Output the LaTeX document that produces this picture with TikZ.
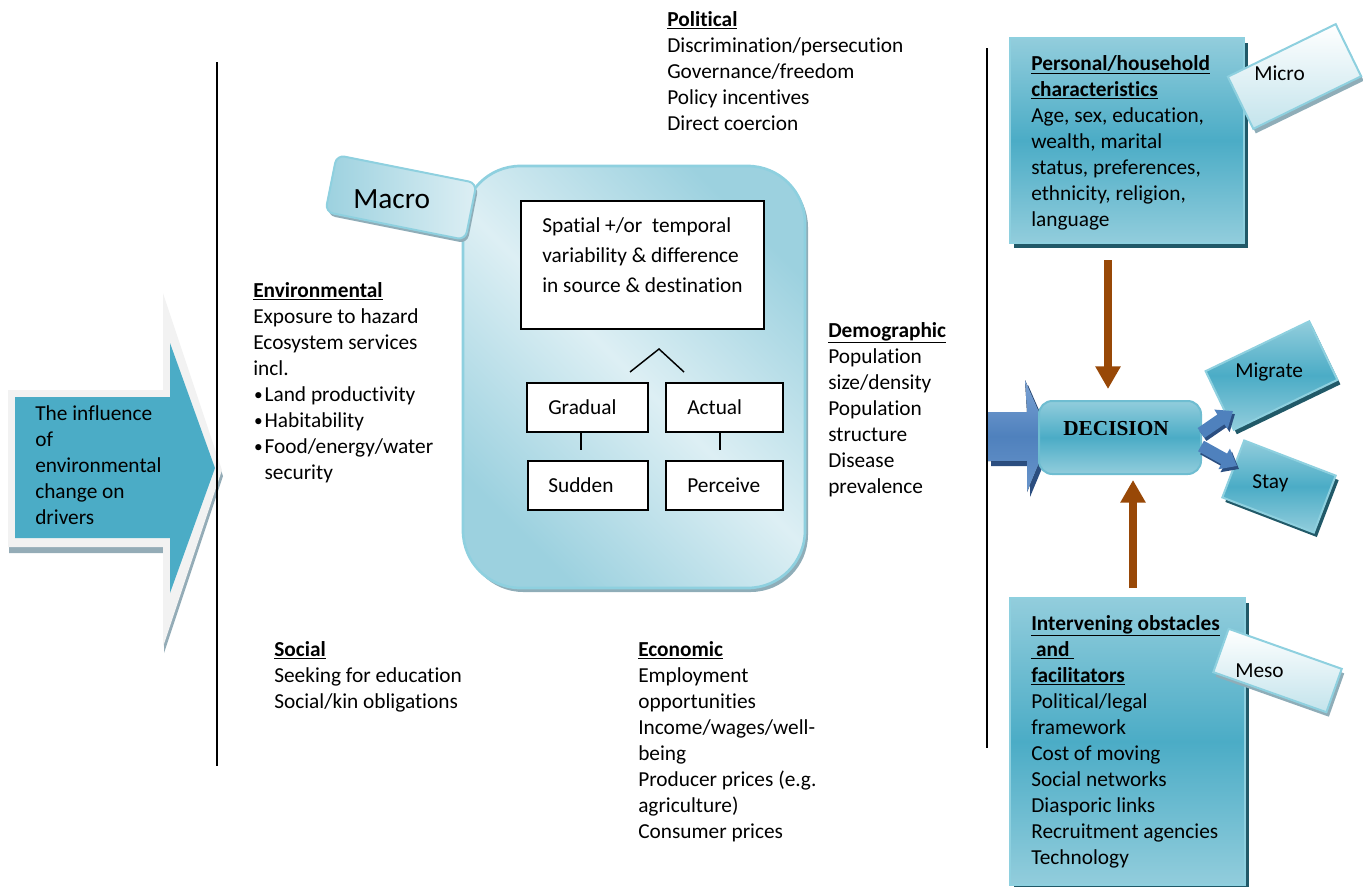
\documentclass[tikz,border=0pt]{standalone}
\usepackage{fontspec}
\setmainfont[Ligatures=NoCommon]{Carlito}
\newfontfamily\decfont{Liberation Serif}
\usetikzlibrary{arrows.meta,calc}
\definecolor{cTeal}{HTML}{4BACC6}
\definecolor{cTealL}{HTML}{92CDDC}
\definecolor{cTealXL}{HTML}{DDEFF4}
\definecolor{cTealMid}{HTML}{9CD1DF}
\definecolor{cTealD}{HTML}{215968}
\definecolor{cTealB}{HTML}{8ED0DF}
\definecolor{cBlue}{HTML}{4F81BD}
\definecolor{cBlueL}{HTML}{7BA2D4}
\definecolor{cBlueD}{HTML}{2B4E80}
\definecolor{cBrown}{HTML}{984807}
\definecolor{cGrayB}{HTML}{F2F2F2}
\definecolor{cGrayS}{HTML}{94ACB7}
\definecolor{cShadowB}{HTML}{8FADB8}
\newcommand\myhd[1]{\textbf{\underline{#1}}}
\newcommand\mybul{\makebox[8.5pt][l]{\hspace{0.6pt}\raisebox{0.6pt}{\fontsize{13}{13}\selectfont\textbullet}}}
\begin{document}
\begin{tikzpicture}[x=0.75pt,y=-0.75pt,
  txt/.style={anchor=base west, align=left, inner sep=0pt, font=\fontsize{16}{19.5}\selectfont},
  vline/.style={draw=black, line width=1.1pt},
  wbox/.style={draw=black, line width=1.1pt, fill=white, inner sep=0pt},
  tealbox/.style={draw=cTealB, line width=1.5pt, inner sep=0pt, top color=cTealL, bottom color=cTealL, middle color=cTeal},
  tabbox/.style={draw=cTealB, line width=1.5pt, inner sep=0pt, top color=white, bottom color=cTealL!55},
  shadowbox/.style={fill=cTealD, inner sep=0pt},
  grayshadow/.style={fill=cShadowB, inner sep=0pt},
  brownarr/.style={draw=cBrown, line width=6pt, -{Triangle[width=18pt,length=17pt]}},
  bluearr/.style={draw=cBlue, line width=9pt, -{Triangle[width=17pt,length=11pt]}},
  bluearrshadow/.style={draw=cBlueD, line width=9pt, -{Triangle[width=17pt,length=11pt]}}
]
\useasboundingbox (0,0) rectangle (1363,886);

% ---------- left big arrow ----------
\fill[cGrayS] ($(8,390)+(1,6)$) -- ($(163,390)+(1,6)$) -- ($(163,293)+(1,6)$) -- ($(222,470)+(1,6)$) -- ($(163,647)+(1,6)$) -- ($(163,547)+(1,6)$) -- ($(8,547)+(1,6)$) -- cycle;
\fill[cGrayB] (8,390) -- (163,390) -- (163,293) -- (222,470) -- (163,647) -- (163,547) -- (8,547) -- cycle;
\fill[cTeal] (15,397) -- (170,397) -- (170,343) -- (215,468) -- (170,593) -- (170,538) -- (15,538) -- cycle;
\node[txt] (influence) at (35,524) {The influence\\of\\environmental\\change on\\drivers};

% ---------- vertical lines ----------
\draw[vline] (217,62) -- (217,766);
\draw[vline] (987,48) -- (987,748);

% ---------- text blocks (anchored at the baseline of the last line) ----------
\node[txt] (political) at (667,130) {\myhd{Political}\\Discrimination/persecution\\Governance/freedom\\Policy incentives\\Direct coercion};
\node[txt] (environmental) at (253,479) {\myhd{Environmental}\\Exposure to hazard\\Ecosystem services\\incl.\\\mybul Land productivity\\\mybul Habitability\\\mybul Food/energy/water\\\hspace*{8.5pt}security};
\node[txt] (social) at (274,708) {\myhd{Social}\\Seeking for education\\Social/kin obligations};
\node[txt] (demographic) at (828,493) {\myhd{Demographic}\\Population\\size/density\\Population\\structure\\Disease\\prevalence};
\node[txt] (economic) at (638,838) {\myhd{Economic}\\Employment\\opportunities\\Income/wages/well-\\being\\Producer prices (e.g.\\agriculture)\\Consumer prices};

% ---------- central macro box ----------
\node[grayshadow, minimum width=256.5pt, minimum height=316.5pt, rounded corners=43pt] (macroshadow) at (637,381) {};
\node[draw=cTealB, line width=2pt, inner sep=0pt, minimum width=256.5pt, minimum height=316.5pt, rounded corners=43pt,
      shading=axis, top color=cTealMid, bottom color=cTealMid, middle color=cTealXL, shading angle=-45] (macrobox) at (634,377) {};
\node[grayshadow, minimum width=107pt, minimum height=43.5pt, rounded corners=6pt, rotate=-11.3] (macrotabshadow) at (403,201) {};
\node[draw=cTealB, line width=1.5pt, inner sep=0pt, minimum width=107pt, minimum height=43.5pt, rounded corners=6pt, rotate=-11.3,
      left color=cTealMid, right color=cTealXL] (macrotab) at (401,197.5) {};
\node[anchor=base west, inner sep=0pt, font=\fontsize{22}{26}\selectfont] (macrolbl) at (353,208) {Macro};

\node[wbox, minimum width=182.25pt, minimum height=96pt] (spatial) at (642.5,265) {};
\node[anchor=base west, align=left, inner sep=0pt, font=\fontsize{16}{22.5}\selectfont] (spatiallbl) at (542,292)
  {Spatial +/or\ \ temporal\\variability \& difference\\in source \& destination};
\draw[line width=1.1pt] (630,372) -- (659,349) -- (684,372);

\node[wbox, minimum width=90.75pt, minimum height=36.75pt] (gradual) at (587.5,407.5) {};
\node[wbox, minimum width=87.75pt, minimum height=36.75pt] (actual) at (724.5,407.5) {};
\node[wbox, minimum width=90pt, minimum height=36.75pt] (sudden) at (588,485.5) {};
\node[wbox, minimum width=87.75pt, minimum height=36.75pt] (perceive) at (724.5,485.5) {};
\node[txt] (graduallbl) at (548,414) {Gradual};
\node[txt] (actuallbl) at (687,414) {Actual};
\node[txt] (suddenlbl) at (548,492) {Sudden};
\node[txt] (perceivelbl) at (687,492) {Perceive};
\coordinate (gtick) at (581,450);
\coordinate (atick) at (720,450);
\draw[line width=1.1pt] (gradual.south -| gtick) -- (gtick);
\draw[line width=1.1pt] (actual.south -| atick) -- (atick);

% ---------- personal box ----------
\node[shadowbox, minimum width=175.5pt, minimum height=153.75pt] (personalshadow) at (1131,145.5) {};
\node[tealbox, minimum width=175.5pt, minimum height=153.75pt] (personal) at (1127,140.5) {};
\node[txt] (personallbl) at (1031,226) {\myhd{Personal/household}\\\myhd{characteristics}\\Age, sex, education,\\wealth, marital\\status, preferences,\\ethnicity, religion,\\language};
\node[grayshadow, minimum width=90pt, minimum height=43.5pt, rotate=26] (microshadow) at (1297,81) {};
\node[tabbox, minimum width=90pt, minimum height=43.5pt, rotate=26] (micro) at (1294.5,76.5) {};
\node[txt] (microlbl) at (1254,80) {Micro};

% ---------- intervening box ----------
\node[shadowbox, minimum width=176.25pt, minimum height=215.25pt] (intervshadow) at (1131,746) {};
\node[tealbox, minimum width=176.25pt, minimum height=215.25pt] (interv) at (1127.5,741.5) {};
\node[txt] (intervlbl) at (1031,864) {\myhd{Intervening obstacles}\\\myhd{\ and\ }\\\myhd{facilitators}\\Political/legal\\framework\\Cost of moving\\Social networks\\Diasporic links\\Recruitment agencies\\Technology};
\node[grayshadow, minimum width=90pt, minimum height=34.5pt, rotate=-19.5] (mesoshadow) at (1280,675) {};
\node[tabbox, minimum width=90pt, minimum height=34.5pt, rotate=-19.5] (meso) at (1277.5,670.5) {};
\node[txt] (mesolbl) at (1235,677) {Meso};

% ---------- decision ----------
\fill[cBlueD] ($(988,412)+(3,5)$) -- ($(1027,412)+(3,5)$) -- ($(1025,380)+(3,5)$) -- ($(1050,437)+(3,5)$) -- ($(1027,492)+(3,5)$) -- ($(1027,461)+(3,5)$) -- ($(988,461)+(3,5)$) -- cycle;
\fill[top color=cBlueL, bottom color=cBlueL!60!cBlue, middle color=cBlue] (988,412) -- (1027,412) -- (1025,380) -- (1050,437) -- (1027,492) -- (1027,461) -- (988,461) -- cycle;

\node[tealbox, draw=cTeal!80!white, minimum width=121.5pt, minimum height=54.75pt, rounded corners=10pt] (decision) at (1120,437.5) {};
\node[anchor=base west, inner sep=0pt, font=\decfont\bfseries\fontsize{16}{19.5}\selectfont] (decisionlbl) at (1063,435) {DECISION};

\coordinate (bdS) at (1108,260);
\coordinate (bdE) at (1108,389);
\coordinate (buS) at (1133,588);
\coordinate (buE) at (1133,480);
\draw[brownarr] (bdS) -- (bdE);
\draw[brownarr] (buS) -- (buE);

% ---------- migrate / stay ----------
\node[shadowbox, minimum width=86.25pt, minimum height=48.75pt, rotate=25.7] (migrateshadow) at (1274.5,380) {};
\node[tealbox, minimum width=86.25pt, minimum height=48.75pt, rotate=25.7] (migrate) at (1271.5,375.5) {};
\node[txt] (migratelbl) at (1235,377) {Migrate};
\node[shadowbox, minimum width=73.5pt, minimum height=45.75pt, rotate=-21] (stayshadow) at (1282,491) {};
\node[tealbox, minimum width=73.5pt, minimum height=45.75pt, rotate=-21] (stay) at (1279,486.5) {};
\node[txt] (staylbl) at (1252,488) {Stay};

\coordinate (m1S) at (1201,433);
\coordinate (m1E) at (1233,411);
\coordinate (m2S) at (1201,446);
\coordinate (m2E) at (1237,466);
\draw[bluearrshadow] ($(m1S)+(2,3)$) -- ($(m1E)+(2,3)$);
\draw[bluearrshadow] ($(m2S)+(2,3)$) -- ($(m2E)+(2,3)$);
\draw[bluearr] (m1S) -- (m1E);
\draw[bluearr] (m2S) -- (m2E);
\end{tikzpicture}
\end{document}
